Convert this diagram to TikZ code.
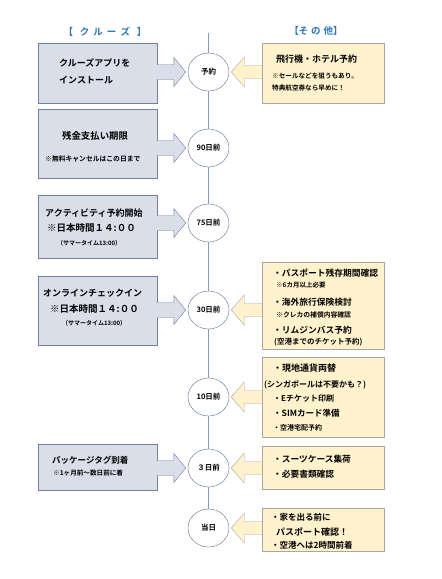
\documentclass[tikz,border=0pt]{standalone}
\usepackage{fontspec}
\setmainfont{Noto Sans CJK JP}[BoldFont={Noto Sans CJK JP Bold}]
\usetikzlibrary{calc,shapes.geometric}
\definecolor{cruisefill}{HTML}{D9DEE8}
\definecolor{cruiseline}{HTML}{6F7F9C}
\definecolor{otherfill}{HTML}{FFF2CC}
\definecolor{otherline}{HTML}{A6A6A6}
\definecolor{headblue}{HTML}{2E75B6}
\definecolor{timeline}{HTML}{5A6E96}
\newcommand{\fs}[1]{\fontsize{#1}{#1}\selectfont}
\newcommand{\toright}[2]{%
   \filldraw[cruisearrow] let \p1=(#1.east), \p2=(#2.west) in
     (\x1,\y2+7.5pt) -- (\x2-14pt,\y2+7.5pt) -- (\x2-14pt,\y2+14.5pt) -- (\x2-2pt,\y2)
     -- (\x2-14pt,\y2-14.5pt) -- (\x2-14pt,\y2-7.5pt) -- (\x1,\y2-7.5pt);}
\newcommand{\toleft}[2]{%
   \filldraw[otherarrow] let \p1=(#1.west), \p2=(#2.east) in
     (\x1,\y2+6.5pt) -- (\x2+15pt,\y2+6.5pt) -- (\x2+15pt,\y2+15pt) -- (\x2+2pt,\y2)
     -- (\x2+15pt,\y2-15pt) -- (\x2+15pt,\y2-6.5pt) -- (\x1,\y2-6.5pt);}
\begin{document}
\begin{tikzpicture}[x=1pt, y=-1pt,
    cruise/.style ={rectangle, draw=cruiseline, fill=cruisefill, thin, minimum width=119pt},
    other/.style ={rectangle, draw=otherline, fill=otherfill, thin, minimum width=122pt},
    cruisearrow/.style ={draw=cruiseline, fill=cruisefill, thin},
    otherarrow/.style ={draw=otherline, fill=otherfill, thin},
    day/.style ={ellipse, draw=timeline, fill=white, thin, inner sep=0pt, minimum width=41pt, minimum height=38pt, font=\bfseries\fs{7.5}},
    head/.style ={text=headblue, font=\bfseries\fs{9.5}},
    txt/.style ={anchor=west, inner sep=0pt, font=\bfseries\fs{9}},
    note/.style ={anchor=west, inner sep=0pt, font=\bfseries\fs{6.6}}]
   \useasboundingbox (0,0) rectangle (442,579);
   \node[head] (hc) at (105,32) {【\hspace{7pt}ク\hspace{4pt}ル\hspace{4pt}ー\hspace{4pt}ズ\hspace{7pt}】};
   \node[head] (ho) at (316,31) {【そ\hspace{3pt}の\hspace{3pt}他】};
   \coordinate (top) at (208.5,33);
   \node[day] (d1) at (208.5,72) {予約};
   \node[day] (d2) at (208.5,148) {90日前};
   \node[day] (d3) at (208.5,223) {75日前};
   \node[day] (d4) at (208.5,310) {30日前};
   \node[day] (d5) at (208.5,397) {10日前};
   \node[day] (d6) at (208.5,468) {３日前};
   \node[day] (d7) at (208.5,528) {当日};
   \draw[timeline!70, thin] (top) -- (d1) (d1) -- (d2) (d2) -- (d3) (d3) -- (d4) (d4) -- (d5) (d5) -- (d6) (d6) -- (d7);
   \node[cruise, minimum height=60pt] (app) at (97.5,73) {};
   \node[cruise, minimum height=69pt] (pay) at (97.5,143.5) {};
   \node[cruise, minimum height=63pt] (act) at (97.5,226.5) {};
   \node[cruise, minimum height=69pt] (chk) at (97.5,310.5) {};
   \node[cruise, minimum height=46pt] (tag) at (97.5,467) {};
   \node[other, minimum height=60pt] (air) at (323,73) {};
   \node[other, minimum height=87pt] (pass) at (323,305.5) {};
   \node[other, minimum height=80pt] (cash) at (323,397) {};
   \node[other, minimum height=43pt] (suit) at (323,467.5) {};
   \node[other, minimum height=43pt] (home) at (323,529.5) {};
   \toright{app}{d1}
   \toright{pay}{d2}
   \toright{act}{d3}
   \toright{chk}{d4}
   \toright{tag}{d6}
   \toleft{air}{d1}
   \toleft{pass}{d4}
   \toleft{cash}{d5}
   \toleft{suit}{d6}
   \toleft{home}{d7}
   \node[txt] (app1) at (59,63) {クルーズアプリを};
   \node[txt] (app2) at (59,80) {インストール};
   \node[txt, font=\bfseries\fs{9.4}] (pay1) at (62,136) {残金支払い期限};
   \node[note, font=\bfseries\fs{6.8}] (pay2) at (45,159) {※無料キャンセルはこの日まで};
   \node[txt] (act1) at (45,213) {アクティビティ予約開始};
   \node[txt, font=\bfseries\fs{9.5}] (act2) at (47,228) {※日本時間１４:００};
   \node[note, font=\bfseries\fs{6}] (act3) at (57,243) {（サマータイム13:00）};
   \node[txt] (chk1) at (43,293) {オンラインチェックイン};
   \node[txt, font=\bfseries\fs{9.5}] (chk2) at (50,309) {※日本時間１４:００};
   \node[note, font=\bfseries\fs{6}] (chk3) at (62,323) {（サマータイム13:00）};
   \node[txt, font=\bfseries\fs{8.5}] (tag1) at (52,460) {パッケージタグ到着};
   \node[note] (tag2) at (53,473) {※1ヶ月前～数日前に着};
   \node[txt] (air1) at (276,59) {飛行機・ホテル予約};
   \node[note] (air2) at (272,76) {※セールなどを狙うもあり。};
   \node[note] (air3) at (272,88) {特典航空券なら早めに！};
   \node[txt, font=\bfseries\fs{8.75}] (pass1) at (273,273) {・パスポート残存期間確認};
   \node[note, font=\bfseries\fs{6.5}] (pass2) at (276,285) {※6カ月以上必要};
   \node[txt, font=\bfseries\fs{8.75}] (pass3) at (273,302) {・海外旅行保険検討};
   \node[note, font=\bfseries\fs{6.8}] (pass4) at (276,315) {※クレカの補償内容確認};
   \node[txt, font=\bfseries\fs{8.75}] (pass5) at (273,330) {・リムジンバス予約};
   \node[note, font=\bfseries\fs{7.5}] (pass6) at (274,342) {(空港までのチケット予約)};
   \node[txt] (cash1) at (273,368) {・現地通貨両替};
   \node[txt, font=\bfseries\fs{8}] (cash2) at (264,385) {(シンガポールは不要かも？)};
   \node[txt, font=\bfseries\fs{8}] (cash3) at (273,398) {・Eチケット印刷};
   \node[txt, font=\bfseries\fs{8.5}] (cash4) at (273,413) {・SIMカード準備};
   \node[note, font=\bfseries\fs{7}] (cash5) at (273,428) {・空港宅配予約};
   \node[txt, font=\bfseries\fs{8.7}] (suit1) at (273,459) {・スーツケース集荷};
   \node[txt, font=\bfseries\fs{8.7}] (suit2) at (273,474) {・必要書類確認};
   \node[txt, font=\bfseries\fs{8.5}] (home1) at (271,517) {・家を出る前に};
   \node[txt] (home2) at (276,532) {パスポート確認！};
   \node[txt, font=\bfseries\fs{8.5}] (home3) at (271,545) {・空港へは2時間前着};
 \end{tikzpicture}
\end{document}
